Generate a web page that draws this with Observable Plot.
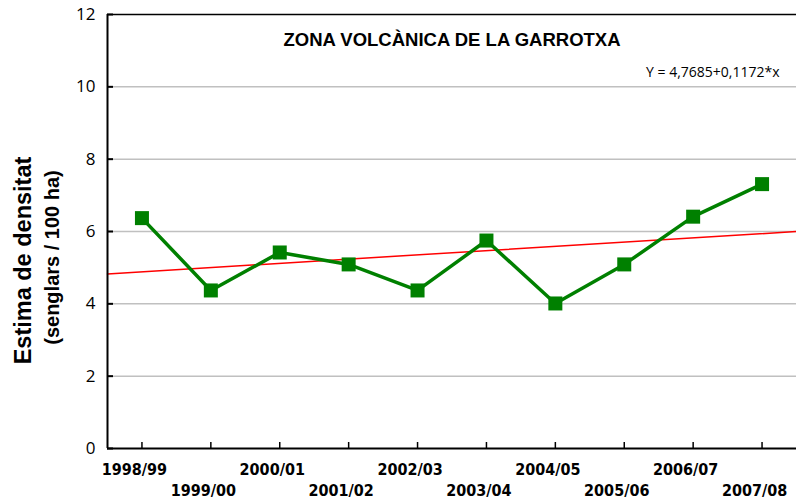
<!DOCTYPE html>
<html>
<head>
<meta charset="utf-8">
<script src="https://cdn.jsdelivr.net/npm/d3@7"></script>
<script src="https://cdn.jsdelivr.net/npm/@observablehq/plot@0.6"></script>
<style>
  html, body { margin: 0; padding: 0; background: #fff; }
  #chart svg { display: block; }
</style>
</head>
<body>
<div id="chart"></div>
<script>
const seasons = ["1998/99","1999/00","2000/01","2001/02","2002/03","2003/04","2004/05","2005/06","2006/07","2007/08"];
const densities = [6.37, 4.37, 5.42, 5.09, 4.37, 5.75, 4.01, 5.09, 6.41, 7.31];
const intercept = 4.7685;
const slope = 0.1172;
const yTicks = [0, 2, 4, 6, 8, 10, 12];
const gridValues = [2, 4, 6, 8, 10];
const title = "ZONA VOLCÀNICA DE LA GARROTXA";
const equation = "Y = 4,7685+0,1172*x";
const yLabel1 = "Estima de densitat";
const yLabel2 = "(senglars / 100 ha)";

const idx = seasons.map((_, i) => i + 1);
const data = seasons.map((s, i) => ({i: i + 1, season: s, value: densities[i]}));
const xDomain = [0.5, seasons.length + 0.5];
const trend = xDomain.map(x => ({x, y: intercept + slope * x}));
const upper = idx.filter(i => i % 2 === 1);
const lower = idx.filter(i => i % 2 === 0);
const fmt = i => seasons[i - 1];
const xFont = "'DejaVu Sans Condensed', 'DejaVu Sans', Verdana, sans-serif";
const labelFont = "'Liberation Sans', Arial, sans-serif";

const chart = Plot.plot({
  width: 796,
  height: 500,
  marginLeft: 107,
  marginRight: 0,
  marginTop: 14,
  marginBottom: 52,
  style: {fontFamily: "'Open Sans', sans-serif", background: "#fff"},
  x: {domain: xDomain, axis: null},
  y: {domain: [0, 12], axis: null},
  marks: [
    Plot.ruleY(gridValues, {stroke: "#c0c0c0", strokeWidth: 1.5}),
    Plot.ruleY([12], {stroke: "#000", strokeWidth: 1.5}),
    Plot.line(trend, {x: "x", y: "y", stroke: "#ff0000", strokeWidth: 1.5}),
    Plot.line(data, {x: "i", y: "value", stroke: "#008000", strokeWidth: 3.5}),
    Plot.dot(data, {x: "i", y: "value", symbol: "square", r: 7.9, fill: "#008000", stroke: "none"}),
    Plot.ruleY([0], {stroke: "#000", strokeWidth: 2}),
    Plot.ruleX([xDomain[0]], {stroke: "#000", strokeWidth: 2}),
    Plot.axisY({ticks: yTicks, tickSize: -6, tickFormat: () => "", stroke: "#000", strokeWidth: 2}),
    Plot.axisY({ticks: yTicks, tickSize: 0, tickPadding: 12, fontSize: 17, fill: "#000"}),
    Plot.axisX({ticks: idx, tickSize: -6, tickFormat: () => "", stroke: "#000", strokeWidth: 1.5}),
    Plot.axisX({ticks: upper, tickSize: 0, tickPadding: 15, dx: -7.5, tickFormat: fmt, fontSize: 16, fontWeight: "bold", fontFamily: xFont, fill: "#000"}),
    Plot.axisX({ticks: lower, tickSize: 0, tickPadding: 36, dx: -7.5, tickFormat: fmt, fontSize: 16, fontWeight: "bold", fontFamily: xFont, fill: "#000"}),
    Plot.text([title], {frameAnchor: "top", lineAnchor: "middle", dy: 26, fontSize: 18.5, fontWeight: "bold", fontFamily: labelFont, fill: "#000"}),
    Plot.text([equation], {frameAnchor: "top-right", lineAnchor: "middle", dx: -17, dy: 58, textAnchor: "end", fontSize: 14, fill: "#000"}),
    Plot.text([yLabel1], {frameAnchor: "left", textAnchor: "middle", dx: -84, dy: 29, rotate: -90, fontSize: 23.5, fontWeight: "bold", fontFamily: labelFont, fill: "#000"}),
    Plot.text([yLabel2], {frameAnchor: "left", textAnchor: "middle", dx: -55, dy: 26, rotate: -90, fontSize: 20, fontWeight: "bold", fontFamily: labelFont, fill: "#000"})
  ]
});
document.getElementById("chart").appendChild(chart);
</script>
</body>
</html>
